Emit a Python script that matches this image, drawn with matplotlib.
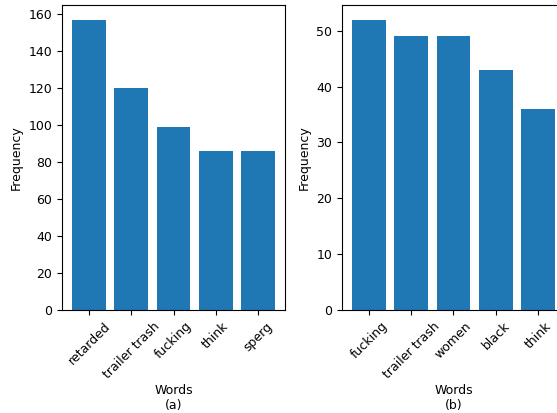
import matplotlib
matplotlib.use('Agg')
import matplotlib.pyplot as plt

plt.rcParams['font.size'] = 9

words_a = ['retarded', 'trailer trash', 'fucking', 'think', 'sperg']
freq_a = [157, 120, 99, 86, 86]
words_b = ['fucking', 'trailer trash', 'women', 'black', 'think']
freq_b = [52, 49, 49, 43, 36]

fig = plt.figure(figsize=(5.57, 4.13), dpi=100)
ax1 = fig.add_axes([62 / 557, 103 / 413, 223 / 557, 305 / 413])
ax2 = fig.add_axes([342 / 557, 103 / 413, 223 / 557, 305 / 413])

for ax, words, freq, tag in [(ax1, words_a, freq_a, '(a)'), (ax2, words_b, freq_b, '(b)')]:
    ax.bar(words, freq, color='#1f77b4')
    ax.set_xlabel('Words\n' + tag, labelpad=2)
    ax.set_ylabel('Frequency')
    ax.tick_params(axis='x', labelrotation=45)

fig.savefig('out.png', dpi=100)
